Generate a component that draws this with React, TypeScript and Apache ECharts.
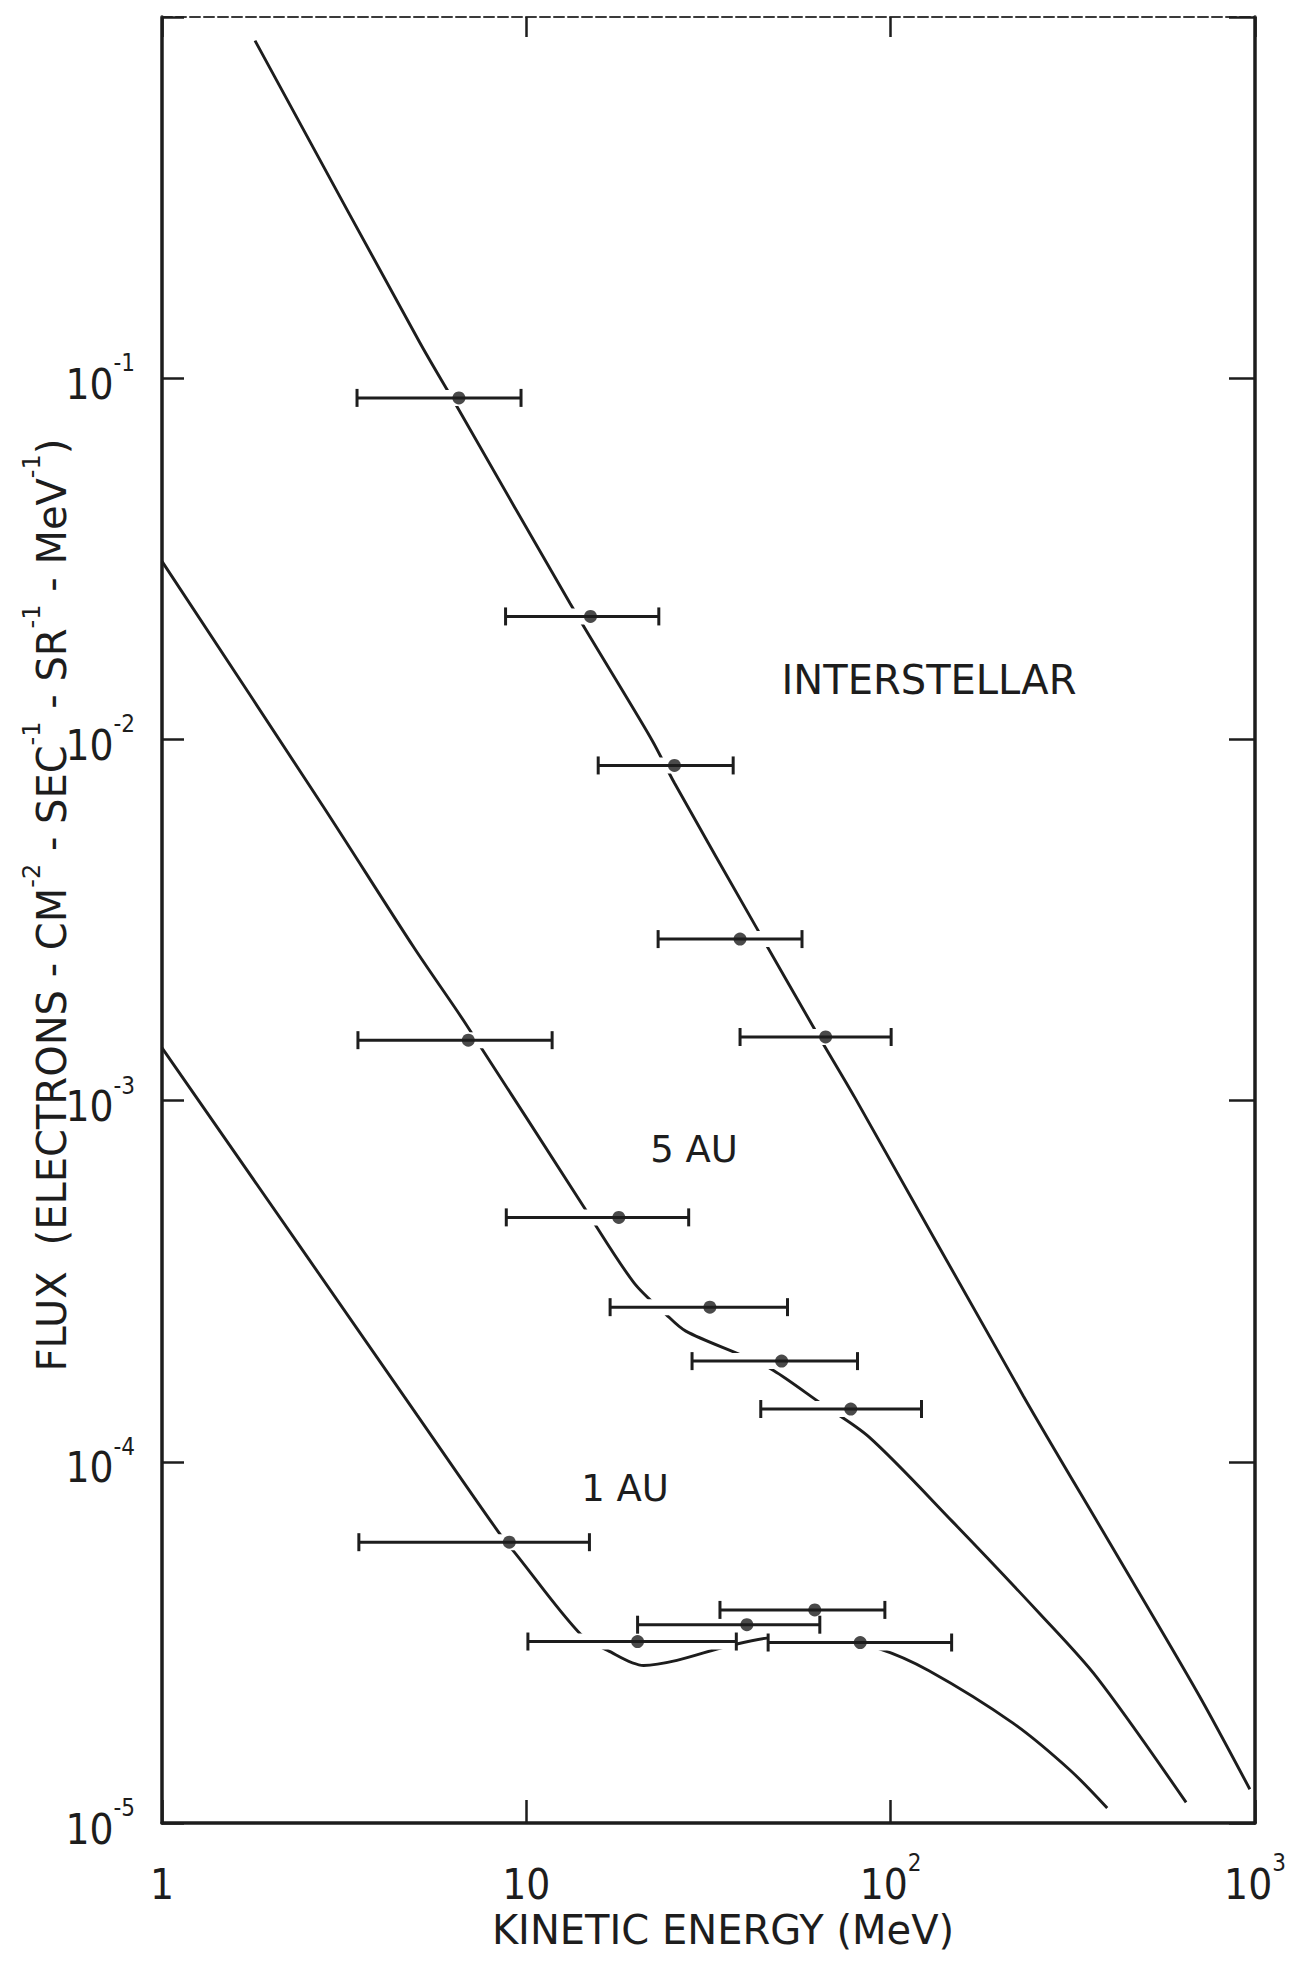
import React, { useEffect, useRef } from 'react';
import * as echarts from 'echarts';

// ---- Model spectra (kinetic energy in MeV, flux in electrons cm^-2 s^-1 sr^-1 MeV^-1) ----
const interstellarCurveEnergy = [1.8, 5.09, 6.55, 13.19, 22.07, 25.5, 43.2, 61.9, 79.9, 231, 401, 698, 968];
const interstellarCurveFlux = [0.86, 0.126, 0.0813, 0.02377, 0.01, 0.00757, 0.002965, 0.001574, 0.001016, 1.524e-4, 5.92e-5, 2.28e-5, 1.24e-5];

const fiveAuCurveEnergy = [1, 2.77, 4.93, 6.85, 14.77, 19.75, 24.17, 27.4, 39.5, 47.7, 63.8, 87.3, 147.6, 257, 368, 647];
const fiveAuCurveFlux = [0.0311, 6.52e-3, 2.64e-3, 1.62e-3, 4.87e-4, 3.13e-4, 2.56e-4, 2.3e-4, 1.96e-4, 1.79e-4, 1.46e-4, 1.17e-4, 6.84e-5, 3.79e-5, 2.53e-5, 1.14e-5];

const oneAuCurveEnergy = [1, 5.02, 8.35, 9.46, 14.05, 16.76, 21.0, 25.9, 36.3, 49.1, 67.6, 92.7, 127.4, 216.7, 311, 393];
const oneAuCurveFlux = [1.4e-3, 1.345e-4, 6.43e-5, 5.48e-5, 3.34e-5, 3.0e-5, 2.73e-5, 2.82e-5, 3.1e-5, 3.27e-5, 3.24e-5, 3.04e-5, 2.64e-5, 1.89e-5, 1.4e-5, 1.1e-5];

// ---- Measurements with energy-bin error bars ----
const interstellarEnergy = [6.53, 15.0, 25.5, 38.6, 66.3];
const interstellarFlux = [0.0882, 0.0219, 0.00847, 0.0028, 0.0015];
const interstellarLow = [3.43, 8.77, 15.75, 23.0, 38.6];
const interstellarHigh = [9.67, 23.1, 36.96, 57.1, 100.3];

const fiveAuEnergy = [6.93, 17.94, 31.9, 50.2, 77.7];
const fiveAuFlux = [1.47e-3, 4.75e-4, 2.68e-4, 1.9e-4, 1.4e-4];
const fiveAuLow = [3.45, 8.81, 16.98, 28.5, 44.0];
const fiveAuHigh = [11.77, 27.9, 52.1, 81.1, 121.5];

const oneAuEnergy = [8.98, 20.2, 40.3, 61.9, 82.5];
const oneAuFlux = [5.99e-5, 3.18e-5, 3.54e-5, 3.89e-5, 3.16e-5];
const oneAuLow = [3.47, 10.1, 20.2, 34.0, 46.1];
const oneAuHigh = [14.9, 37.7, 63.9, 96.4, 147];

// ---- Tick labels ----
const xTickValues = [1, 10, 100, 1000];
const xTickBase = ['1', '10', '10', '10'];
const xTickExp = ['', '', '2', '3'];

const yTickValues = [1e-5, 1e-4, 1e-3, 1e-2, 1e-1];
const yTickBase = ['10', '10', '10', '10', '10'];
const yTickExp = ['-5', '-4', '-3', '-2', '-1'];

const curveLabels = ['INTERSTELLAR', '5 AU', '1 AU'];

const INK = '#1d1d1d';
const LETTERING = "'DejaVu Sans', 'Liberation Sans', sans-serif";
const NARROW = "'Liberation Sans Narrow', 'DejaVu Sans Condensed', 'Liberation Sans', sans-serif";

const zip = (a: number[], b: number[]) => a.map((v, i) => [v, b[i]]);
const bars = (e: number[], f: number[], lo: number[], hi: number[]) =>
  e.map((v, i) => [v, f[i], lo[i], hi[i]]);

const tickFormatter = (values: number[], base: string[], exp: string[]) => (v: number) => {
  const i = values.findIndex((t) => Math.abs(Math.log10(t) - Math.log10(v)) < 1e-6);
  if (i < 0) return '';
  return exp[i] ? `{b|${base[i]}}{s|${exp[i]}}` : `{b|${base[i]}}`;
};

const tickRich = {
  b: { fontFamily: NARROW, fontSize: 42, lineHeight: 54, verticalAlign: 'bottom', color: INK },
  s: { fontFamily: NARROW, fontSize: 24, lineHeight: 24, verticalAlign: 'top', color: INK },
};

const allBars = [
  ...bars(interstellarEnergy, interstellarFlux, interstellarLow, interstellarHigh),
  ...bars(fiveAuEnergy, fiveAuFlux, fiveAuLow, fiveAuHigh),
  ...bars(oneAuEnergy, oneAuFlux, oneAuLow, oneAuHigh),
];

const allPoints = [
  ...zip(interstellarEnergy, interstellarFlux),
  ...zip(fiveAuEnergy, fiveAuFlux),
  ...zip(oneAuEnergy, oneAuFlux),
];

const curveSeries = (name: string, e: number[], f: number[]) => ({
  name,
  type: 'line',
  data: zip(e, f),
  showSymbol: false,
  smooth: 0.3,
  lineStyle: { color: INK, width: 2.9 },
  z: 1,
  silent: true,
});

const titleRich = {
  b: { fontFamily: LETTERING, fontSize: 40, lineHeight: 52, verticalAlign: 'bottom', fill: INK, color: INK },
  s: { fontFamily: LETTERING, fontSize: 24, lineHeight: 24, verticalAlign: 'top', fill: INK, color: INK },
  g: { fontFamily: LETTERING, fontSize: 40, lineHeight: 52, width: 26, verticalAlign: 'bottom', fill: INK, color: INK },
};

const labelText = (text: string, x: number, y: number, size: number) => ({
  type: 'text',
  x,
  y,
  silent: true,
  style: { text, fontFamily: LETTERING, fontSize: size, fill: INK, align: 'center', verticalAlign: 'middle' },
});

const option = {
  animation: false,
  backgroundColor: '#ffffff',
  grid: { left: 162, right: 35, top: 17, bottom: 142, containLabel: false },
  xAxis: [
    {
      type: 'log',
      logBase: 10,
      min: 1,
      max: 1000,
      position: 'bottom',
      axisLine: { show: true, onZero: false, lineStyle: { color: INK, width: 3.5 } },
      axisTick: { show: true, inside: true, length: 23, lineStyle: { color: INK, width: 2.5 } },
      minorTick: { show: false },
      splitLine: { show: false },
      axisLabel: {
        show: true,
        margin: 28,
        showMinLabel: true,
        showMaxLabel: true,
        formatter: tickFormatter(xTickValues, xTickBase, xTickExp),
        rich: tickRich,
      },
    },
    {
      type: 'log',
      logBase: 10,
      min: 1,
      max: 1000,
      position: 'top',
      axisLine: { show: true, onZero: false, lineStyle: { color: '#3a3a3a', width: 2, type: [10, 4] } },
      axisTick: { show: true, inside: true, length: 20, lineStyle: { color: INK, width: 2.5 } },
      splitLine: { show: false },
      axisLabel: { show: false },
    },
  ],
  yAxis: [
    {
      type: 'log',
      logBase: 10,
      min: 1e-5,
      max: 1,
      position: 'left',
      axisLine: { show: true, onZero: false, lineStyle: { color: INK, width: 3.5 } },
      axisTick: { show: true, inside: true, length: 22, lineStyle: { color: INK, width: 2.5 } },
      splitLine: { show: false },
      axisLabel: {
        show: true,
        margin: 27,
        showMinLabel: true,
        showMaxLabel: true,
        formatter: tickFormatter(yTickValues, yTickBase, yTickExp),
        rich: tickRich,
      },
    },
    {
      type: 'log',
      logBase: 10,
      min: 1e-5,
      max: 1,
      position: 'right',
      axisLine: { show: true, onZero: false, lineStyle: { color: INK, width: 3.5 } },
      axisTick: { show: true, inside: true, length: 26, lineStyle: { color: INK, width: 2.5 } },
      splitLine: { show: false },
      axisLabel: { show: false },
    },
  ],
  series: [
    curveSeries('Interstellar', interstellarCurveEnergy, interstellarCurveFlux),
    curveSeries('5 AU', fiveAuCurveEnergy, fiveAuCurveFlux),
    curveSeries('1 AU', oneAuCurveEnergy, oneAuCurveFlux),
    {
      // white band under each energy bar: the curves break where they cross a bar
      type: 'custom',
      silent: true,
      z: 2,
      data: allBars,
      encode: { x: [0, 2, 3], y: 1 },
      renderItem: (_params: any, api: any) => {
        const y = api.value(1);
        const p1 = api.coord([api.value(2), y]);
        const p2 = api.coord([api.value(3), y]);
        return {
          type: 'line',
          shape: { x1: p1[0], y1: p1[1], x2: p2[0], y2: p2[1] },
          style: { stroke: '#ffffff', lineWidth: 16, fill: null },
        };
      },
    },
    {
      // horizontal energy-bin bars with end caps
      type: 'custom',
      silent: true,
      z: 3,
      data: allBars,
      encode: { x: [0, 2, 3], y: 1 },
      renderItem: (_params: any, api: any) => {
        const y = api.value(1);
        const p1 = api.coord([api.value(2), y]);
        const p2 = api.coord([api.value(3), y]);
        const cap = 9;
        const st = { stroke: INK, lineWidth: 3, fill: null };
        return {
          type: 'group',
          children: [
            { type: 'line', shape: { x1: p1[0], y1: p1[1], x2: p2[0], y2: p2[1] }, style: st },
            { type: 'line', shape: { x1: p1[0], y1: p1[1] - cap, x2: p1[0], y2: p1[1] + cap }, style: st },
            { type: 'line', shape: { x1: p2[0], y1: p2[1] - cap, x2: p2[0], y2: p2[1] + cap }, style: st },
          ],
        };
      },
    },
    {
      type: 'scatter',
      data: allPoints,
      symbol: 'circle',
      symbolSize: 13,
      itemStyle: { color: INK },
      z: 4,
      silent: true,
    },
  ],
  graphic: [
    labelText(curveLabels[0], 929, 680, 40),
    labelText(curveLabels[1], 694, 1149, 37),
    labelText(curveLabels[2], 625, 1488, 37),
    labelText('KINETIC ENERGY (MeV)', 723, 1930, 40),
    {
      type: 'text',
      x: 46,
      y: 905,
      rotation: Math.PI / 2,
      silent: true,
      style: {
        text: '{b|FLUX}{g| }{b|(ELECTRONS - CM}{s|-2}{b| - SEC}{s|-1}{b| - SR}{s|-1}{b| - MeV}{s|-1}{b|)}',
        rich: titleRich,
        align: 'center',
        verticalAlign: 'middle',
        fill: INK,
      },
    },
  ],
};

export default function App() {
  const ref = useRef<HTMLDivElement>(null);
  useEffect(() => {
    if (!ref.current) return;
    const chart = echarts.init(ref.current, null, { renderer: 'svg' });
    chart.setOption(option as any);
    return () => chart.dispose();
  }, []);
  return (
    <div
      ref={ref}
      style={{ position: 'absolute', left: 0, top: 0, width: 1290, height: 1965, background: '#ffffff' }}
    />
  );
}
